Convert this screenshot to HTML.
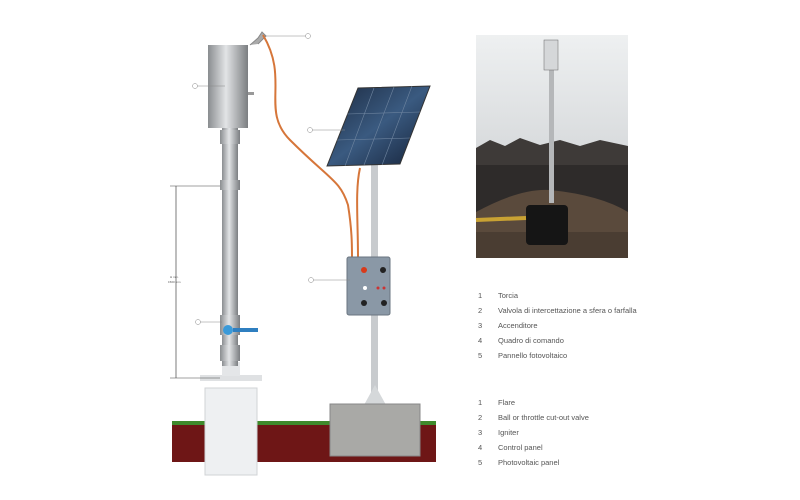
<!DOCTYPE html>
<html><head><meta charset="utf-8"><style>
body{margin:0;background:#fff;}
svg{display:block}
text{font-family:"Liberation Sans",sans-serif;fill:#555}
</style></head><body>
<svg width="800" height="500" viewBox="0 0 800 500">
<defs>
<linearGradient id="met" x1="0" x2="1"><stop offset="0" stop-color="#8a8d90"/><stop offset="0.45" stop-color="#e2e4e6"/><stop offset="1" stop-color="#7b7e81"/></linearGradient>
<linearGradient id="sky" x1="0" y1="0" x2="0" y2="1"><stop offset="0" stop-color="#eef0f1"/><stop offset="1" stop-color="#c4c7ca"/></linearGradient>
<linearGradient id="pan" x1="0" y1="0" x2="1" y2="1"><stop offset="0" stop-color="#1c2a40"/><stop offset="0.5" stop-color="#3a5a80"/><stop offset="1" stop-color="#142036"/></linearGradient>
</defs>
<rect x="172" y="421" width="264" height="4" fill="#3f8a2c"/>
<rect x="172" y="425" width="264" height="37" fill="#6e1616"/>
<rect x="205" y="388" width="52" height="87" fill="#eef0f2" stroke="#d0d3d6"/>
<rect x="200" y="375" width="62" height="6" fill="#dfe1e3"/>
<rect x="222" y="362" width="18" height="14" fill="#e4e6e8"/>
<rect x="222" y="128" width="16" height="238" fill="url(#met)"/>
<rect x="220" y="130" width="20" height="14" fill="url(#met)"/>
<rect x="220" y="180" width="20" height="10" fill="url(#met)"/>
<rect x="220" y="315" width="20" height="20" fill="url(#met)"/>
<rect x="220" y="345" width="20" height="16" fill="url(#met)"/>
<circle cx="228" cy="330" r="5" fill="#3a9ad9"/>
<rect x="233" y="328" width="25" height="4" fill="#2f7fc0"/>
<rect x="208" y="45" width="40" height="83" fill="url(#met)"/>
<rect x="248" y="92" width="6" height="3" fill="#999"/>
<path d="M250 45 L258 38 L262 32 L266 36 L258 44" fill="#aaa" stroke="#888"/>
<line x1="176" y1="186" x2="176" y2="378" stroke="#444" stroke-width="0.7"/>
<line x1="170" y1="186" x2="220" y2="186" stroke="#444" stroke-width="0.5"/>
<line x1="170" y1="378" x2="220" y2="378" stroke="#444" stroke-width="0.5"/>
<text x="170" y="278" font-size="3">H min.</text>
<text x="168" y="283" font-size="3">1500 mm</text>
<rect x="371" y="160" width="7" height="240" fill="#c8cbce"/>
<path d="M364 405 L375 385 L386 405Z" fill="#d5d8da"/>
<rect x="330" y="404" width="90" height="52" fill="#a9a9a6"/>
<rect x="330" y="404" width="90" height="52" fill="none" stroke="#888"/>
<path d="M263 35 C290 80 260 110 290 140 C330 180 340 180 348 205 C352 230 352 245 352 258" stroke="#d6763a" stroke-width="2" fill="none"/>
<path d="M360 168 C355 190 358 220 358 258" stroke="#d6763a" stroke-width="2" fill="none"/>
<path d="M327 166 L358 88 L430 86 L400 164Z" fill="url(#pan)" stroke="#333"/>
<g stroke="#6f85a0" stroke-width="0.6">
<line x1="345" y1="166" x2="374" y2="88"/><line x1="364" y1="165" x2="394" y2="87"/><line x1="382" y1="165" x2="412" y2="86"/>
<line x1="337" y1="140" x2="410" y2="138"/><line x1="347" y1="114" x2="420" y2="112"/>
</g>
<rect x="347" y="257" width="43" height="58" rx="2" fill="#8a98a6" stroke="#6a7580"/>
<circle cx="364" cy="270" r="3" fill="#d83a1a"/>
<circle cx="383" cy="270" r="3" fill="#222"/>
<circle cx="365" cy="288" r="2" fill="#fff"/>
<circle cx="378" cy="288" r="1.5" fill="#c33"/><circle cx="384" cy="288" r="1.5" fill="#c33"/>
<circle cx="364" cy="303" r="3" fill="#222"/><circle cx="384" cy="303" r="3" fill="#222"/>
<g stroke="#888" stroke-width="0.5" fill="#fff">
<line x1="264" y1="36" x2="306" y2="36"/><circle cx="308" cy="36" r="2.5"/>
<line x1="197" y1="86" x2="225" y2="86"/><circle cx="195" cy="86" r="2.5"/>
<line x1="312" y1="130" x2="345" y2="130"/><circle cx="310" cy="130" r="2.5"/>
<line x1="313" y1="280" x2="350" y2="280"/><circle cx="311" cy="280" r="2.5"/>
<line x1="200" y1="322" x2="222" y2="322"/><circle cx="198" cy="322" r="2.5"/>
</g>
<!-- photo -->
<rect x="476" y="35" width="152" height="223" fill="url(#sky)"/>
<path d="M476 148 L490 140 L505 146 L520 138 L540 145 L560 140 L580 146 L600 140 L628 146 L628 215 L476 215Z" fill="#3e3a38"/>
<rect x="476" y="165" width="152" height="50" fill="#2e2b2a"/>
<path d="M476 212 Q520 188 550 190 Q600 195 628 212 L628 258 L476 258Z" fill="#5a4a3c"/>
<rect x="476" y="232" width="152" height="26" fill="#4a3d32"/>
<rect x="526" y="205" width="42" height="40" rx="4" fill="#151515"/>
<rect x="549" y="68" width="5" height="135" fill="#b5b7b9"/>
<rect x="544" y="40" width="14" height="30" fill="#d5d7d9" stroke="#666" stroke-width="0.5"/>
<path d="M476 220 L526 218" stroke="#c9a233" stroke-width="4" fill="none"/>
<g font-size="7.5">
<text x="478" y="298">1</text><text x="498" y="298">Torcia</text>
<text x="478" y="313">2</text><text x="498" y="313">Valvola di intercettazione a sfera o farfalla</text>
<text x="478" y="328">3</text><text x="498" y="328">Accenditore</text>
<text x="478" y="343">4</text><text x="498" y="343">Quadro di comando</text>
<text x="478" y="358">5</text><text x="498" y="358">Pannello fotovoltaico</text>
<text x="478" y="405">1</text><text x="498" y="405">Flare</text>
<text x="478" y="420">2</text><text x="498" y="420">Ball or throttle cut-out valve</text>
<text x="478" y="435">3</text><text x="498" y="435">Igniter</text>
<text x="478" y="450">4</text><text x="498" y="450">Control panel</text>
<text x="478" y="465">5</text><text x="498" y="465">Photovoltaic panel</text>
</g>
</svg>
</body></html>
